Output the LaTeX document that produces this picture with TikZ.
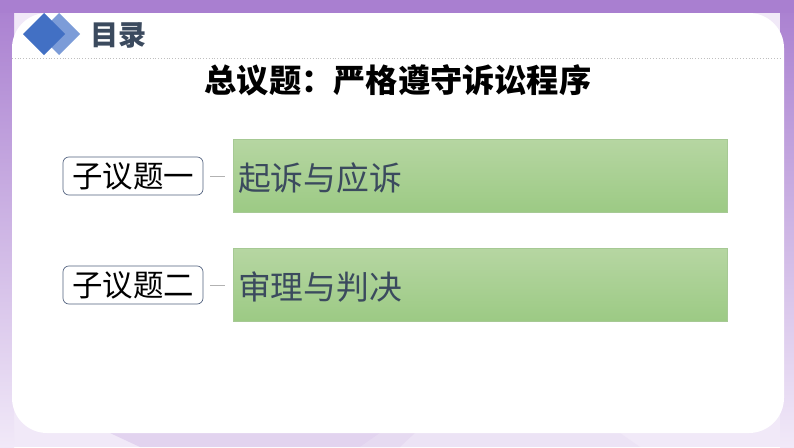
\documentclass[tikz,border=0pt]{standalone}
\usepackage{fontspec}
\setmainfont{Noto Sans CJK SC}
\usetikzlibrary{positioning}
\definecolor{bandpurple}{HTML}{A97FD0}
\definecolor{lavender}{HTML}{F1E9F8}
\definecolor{darkblue}{HTML}{4270C4}
\definecolor{lightblue}{HTML}{7C9CD8}
\definecolor{slate}{HTML}{3B4A5E}
\definecolor{greentop}{HTML}{B6D6A2}
\definecolor{greenbot}{HTML}{9CCA84}
\definecolor{greenedge}{HTML}{A6C994}
\definecolor{tagedge}{HTML}{52627F}
\tikzset{
  topic/.style={draw=tagedge, rounded corners=5pt, line width=0.6pt, minimum width=4.2cm,
    minimum height=1.14cm, font=\fontsize{26}{26}\selectfont, inner sep=0pt},
  greenbar/.style={draw=greenedge, top color=greentop, bottom color=greenbot, minimum width=14.82cm,
    minimum height=2.2cm, inner sep=0pt},
  bartext/.style={text=slate, font=\fontsize{28}{28}\selectfont, anchor=west},
  link/.style={gray!60, line width=0.5pt}
}
\begin{document}
\begin{tikzpicture}[x=0.03cm, y=-0.03cm]
  \useasboundingbox (0,0) rectangle (794,447);
  \fill[lavender] (0,0) rectangle (794,447);
  \shade[top color=bandpurple, bottom color=lavender] (0,0) rectangle (14,447);
  \shade[top color=bandpurple, bottom color=lavender] (780,0) rectangle (794,447);
  \fill[bandpurple] (0,0) rectangle (794,13);
  \fill[bandpurple!45, opacity=0.6] (110,433) -- (415,433) -- (400,447) -- (140,447) -- cycle;
  \fill[bandpurple!25, opacity=0.6] (380,433) -- (620,433) -- (640,447) -- (360,447) -- cycle;
  \fill[white, rounded corners=30] (12,13) rectangle (784,433);

  \draw[gray!50, dotted] (12,58) -- (780,58);
  \fill[lightblue] (59,13) -- (80,34) -- (59,55) -- (38,34) -- cycle;
  \fill[darkblue] (44,13) -- (65,34) -- (44,55) -- (23,34) -- cycle;
  \node[text=slate, font=\fontsize{24}{24}\selectfont\bfseries, anchor=west] (mulu) at (86,35) {目录};

  \node[font=\fontsize{27.5}{27.5}\selectfont\bfseries] (title) at (398,80) {总议题：严格遵守诉讼程序};

  \node[topic] (t1) at (133,176) {子议题一};
  \node[topic] (t2) at (133,285) {子议题二};
  \node[greenbar, anchor=west] (g1) at (233,176) {};
  \node[greenbar, anchor=west] (g2) at (233,285) {};
  \node[bartext] (s1) at (234,178) {起诉与应诉};
  \node[bartext] (s2) at (234,287) {审理与判决};

  \coordinate[right=0.2cm of t1.east] (c1);
  \coordinate[right=0.2cm of t2.east] (c2);
  \draw[link] (c1) -- ++(15,0);
  \draw[link] (c2) -- ++(15,0);
\end{tikzpicture}
\end{document}
